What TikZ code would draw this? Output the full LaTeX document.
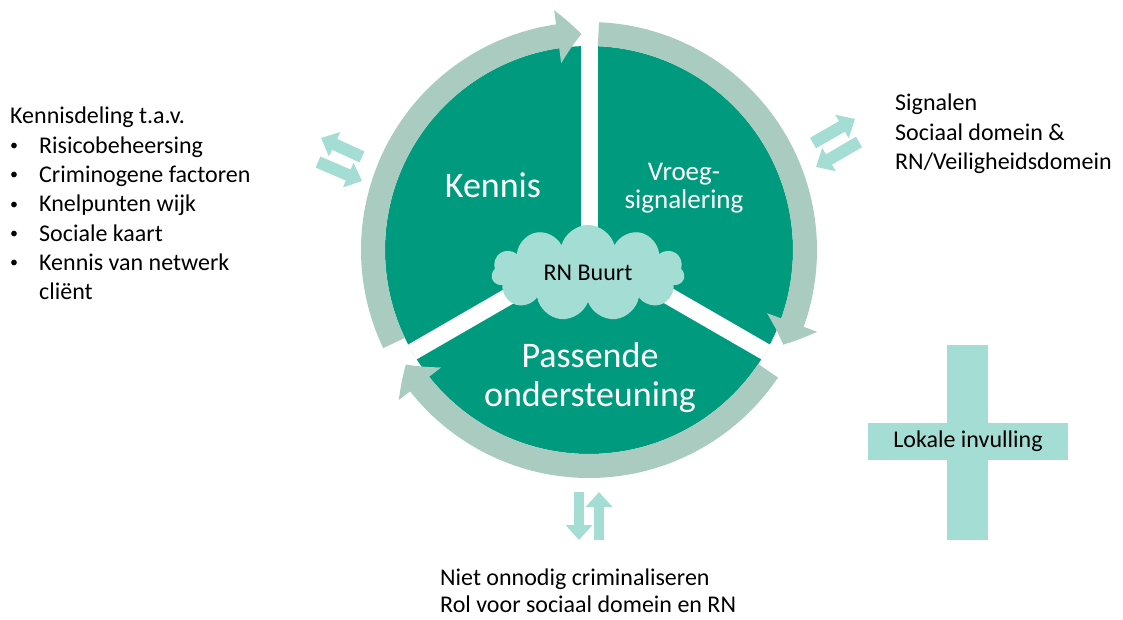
\documentclass[tikz,border=0pt]{standalone}
\usepackage{fontspec}
\setmainfont{Carlito}
\usetikzlibrary{arrows.meta,bending,shapes.symbols}
\definecolor{tealdark}{RGB}{0,155,126}
\definecolor{ringgray}{RGB}{169,203,192}
\definecolor{aqua}{RGB}{163,221,211}
\newcommand{\bul}{\makebox[29pt][l]{\raisebox{2.6pt}{\fontsize{16}{16}\selectfont\textbullet}}}

\begin{document}
\begin{tikzpicture}[x = 1pt, y = 1pt]
        \tikzset{ringarrow/.style={line width=24pt, ringgray, -{Triangle[width=52pt,length=24pt,bend]}}}  % cycle arrows
        \tikzset{split/.style={line width=17pt, white}}
        \tikzset{pair/.style={line width=12pt, aqua, -{Triangle[width=26pt,length=15pt]}}}
        \tikzset{note/.style={font=\fontsize{24}{29.3}\selectfont, align=left, inner sep=0pt, anchor=north west}}
        \tikzset{sector/.style={text=white, align=center, inner sep=0pt}}

        \useasboundingbox (0,0) rectangle (1123,619);

        % the three segments
        \node[circle, fill=tealdark, minimum size=408pt, inner sep=0pt] (pie) at (589,369) {};
        \draw[split] (pie.center) -- (pie.90);
        \draw[split] (pie.center) -- (pie.210);
        \draw[split] (pie.center) -- (pie.330);

        \draw[ringarrow] ([shift={(205.5:216)}]pie.center) arc[start angle=205.5, end angle=92, radius=216];
        \draw[ringarrow] ([shift={(87.5:216)}]pie.center) arc[start angle=87.5, end angle=-26, radius=216];
        \draw[ringarrow] ([shift={(-34:216)}]pie.center) arc[start angle=-34, end angle=-148, radius=216];

        \node[sector, font=\fontsize{36}{40}\selectfont] (kennis) at (493,434) {Kennis};
        \node[sector, font=\fontsize{27}{28}\selectfont] (vroeg) at (684,431) {Vroeg-\\signalering};
        \node[sector, font=\fontsize{36}{39}\selectfont] (passend) at (590,241) {Passende\\ondersteuning};

        \node[cloud, cloud puffs=11, aspect=2.1, fill=aqua, minimum width=193pt, minimum height=96pt,
              font=\fontsize{24}{29}\selectfont] (buurt) at (588,346) {RN Buurt};

        % exchange arrows
        \coordinate (k1) at (362,462); \coordinate (k2) at (321,481);
        \coordinate (k3) at (318,457); \coordinate (k4) at (362,438);
        \draw[pair] (k1) -- (k2);
        \draw[pair] (k3) -- (k4);

        \coordinate (s1) at (813,476); \coordinate (s2) at (855,500);
        \coordinate (s3) at (859,477); \coordinate (s4) at (816,452);
        \draw[pair] (s1) -- (s2);
        \draw[pair] (s3) -- (s4);

        \coordinate (o1) at (579,127); \coordinate (o2) at (579,79);
        \coordinate (o3) at (599,79);  \coordinate (o4) at (599,127);
        \draw[pair, line width=10pt] (o1) -- (o2);
        \draw[pair, line width=10pt] (o3) -- (o4);

        % side texts
        \node[note] (kennisdeling) at (10,512) {Kennisdeling t.a.v.\\
              \bul Risicobeheersing\\
              \bul Criminogene factoren\\
              \bul Knelpunten wijk\\
              \bul Sociale kaart\\
              \bul Kennis van netwerk\\
              \makebox[29pt]{}cliënt};
        \node[note] (signalen) at (895,525) {Signalen\\Sociaal domein \&\\RN/Veiligheidsdomein};
        \node[note, font=\fontsize{24}{27}\selectfont] (rol) at (440,50) {Niet onnodig criminaliseren\\Rol voor sociaal domein en RN};

        % plus sign
        \node[fill=aqua, minimum width=41pt, minimum height=195pt, inner sep=0pt] (kruis) at (967.5,176.5) {};
        \node[fill=aqua, minimum width=200pt, minimum height=37pt, inner sep=0pt,
              font=\fontsize{24}{29}\selectfont] (lokaal) at (968,177.5) {Lokale invulling};

      \end{tikzpicture}
\end{document}
